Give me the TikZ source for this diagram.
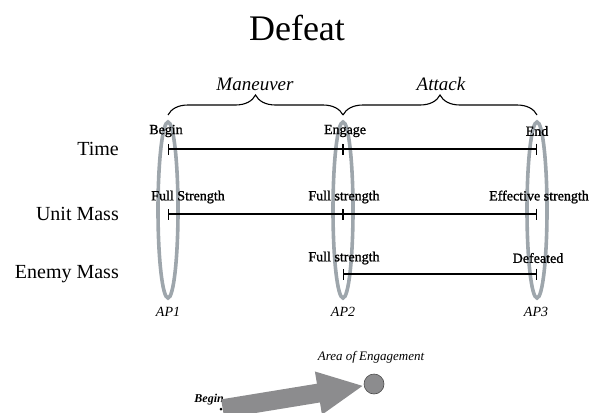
\documentclass[tikz,border=0pt]{standalone}
\usepackage{fontspec}
\setmainfont{Liberation Serif}
\newfontfamily\pointfont[FakeBold=1.2]{Liberation Serif}
\usetikzlibrary{arrows.meta}
\usetikzlibrary{shapes.geometric}
\usetikzlibrary{decorations.pathreplacing}

\definecolor{ringgray}{RGB}{158,166,172}
\definecolor{arrowgray}{RGB}{140,140,142}

\tikzset{
	apring/.style={ellipse,draw=ringgray,line width=3.6pt,minimum width=20pt,minimum height=176pt,inner sep=0pt},
	rowlabel/.style={font=\fontsize{20}{22}\selectfont,anchor=east,inner sep=0pt},
	pointlabel/.style={font=\pointfont\fontsize{14}{16}\selectfont,inner sep=0pt},
	aplabel/.style={font=\itshape\fontsize{14}{16}\selectfont,inner sep=0pt},
	phaselabel/.style={font=\itshape\fontsize{19}{21}\selectfont,inner sep=0pt},
	phasebrace/.style={decorate,decoration={brace,amplitude=20pt},line width=1.1pt},
	span/.style={line width=1.4pt,{Bar[width=11pt]}-{Bar[width=11pt]}}
}

\begin{document}
\begin{tikzpicture}[x=1pt,y=-1pt]
\useasboundingbox (0,0) rectangle (596,412);
\node[font=\fontsize{36}{40}\selectfont,inner sep=0pt] (title) at (297,28) {Defeat};

% aim points
\node[apring] (ap1) at (168,210) {};
\node[apring] (ap2) at (343,210) {};
\node[apring] (ap3) at (537,210) {};
\node[aplabel] (ap1l) at (168,312) {AP1};
\node[aplabel] (ap2l) at (343,312) {AP2};
\node[aplabel] (ap3l) at (536,312) {AP3};

% phases
\coordinate (b1) at (168,115);
\coordinate (b2) at (343,115);
\coordinate (b3) at (537,115);
\draw[phasebrace] (b1) -- (b2);
\draw[phasebrace] (b2) -- (b3);
\node[phaselabel] (man) at (255,84) {Maneuver};
\node[phaselabel] (att) at (441,84) {Attack};

% time
\node[rowlabel] (time) at (119,149) {Time};
\coordinate (t1) at (168,149);
\coordinate (t2) at (343,149);
\coordinate (t3) at (537,149);
\draw[span] (t1) -- (t2);
\draw[span] (t2) -- (t3);
\node[pointlabel] (begin) at (166,131) {Begin};
\node[pointlabel] (engage) at (345,131) {Engage};
\node[pointlabel] (end) at (537,131) {End};

% unit mass
\node[rowlabel] (unit) at (119,214) {Unit Mass};
\coordinate (u1) at (168,214);
\coordinate (u2) at (343,214);
\coordinate (u3) at (537,214);
\draw[span] (u1) -- (u2);
\draw[span] (u2) -- (u3);
\node[pointlabel] (ufull) at (188,197) {Full Strength};
\node[pointlabel] (ufull2) at (344,197) {Full strength};
\node[pointlabel] (ueff) at (539,197) {Effective strength};

% enemy mass
\node[rowlabel] (enemy) at (119,274) {Enemy Mass};
\coordinate (e2) at (343,274);
\coordinate (e3) at (537,274);
\draw[span] (e2) -- (e3);
\node[pointlabel] (efull) at (344,258) {Full strength};
\node[pointlabel] (edef) at (538,258) {Defeated};

% movement to the area of engagement
\node[circle,fill=arrowgray,draw=black!70,line width=0.6pt,minimum size=20pt,inner sep=0pt] (area) at (374,384) {};
\node[font=\itshape\fontsize{13}{15}\selectfont,inner sep=0pt] (areal) at (371,357) {Area of Engagement};
\node[circle,fill=black,minimum size=3pt,inner sep=0pt] (start) at (221,409) {};
\node[font=\bfseries\itshape\fontsize{12}{14}\selectfont,inner sep=0pt,anchor=east] (startl) at (224,400) {Begin};
\draw[arrowgray,line width=19pt,-{Triangle[width=40pt,length=46pt]}] (start) -- (area);
\end{tikzpicture}
\end{document}
